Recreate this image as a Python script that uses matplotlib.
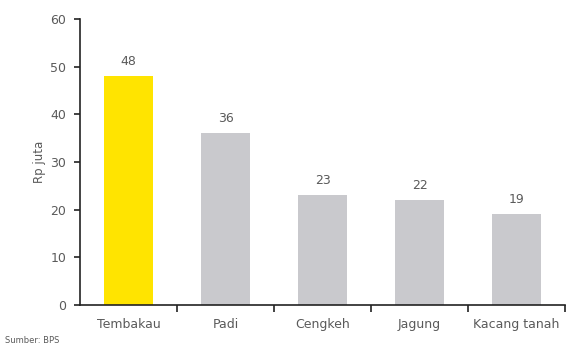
import numpy as np
from matplotlib import pyplot as plt
from matplotlib.ticker import FixedLocator

# Pendapatan per komoditas (Rp juta)
komoditas = ["Tembakau", "Padi", "Cengkeh", "Jagung", "Kacang tanah"]
nilai = [48, 36, 23, 22, 19]
warna = ["#FFE400", "#C9C9CD", "#C9C9CD", "#C9C9CD", "#C9C9CD"]

plt.rcParams["font.family"] = ["DejaVu Sans"]

text_col = "#5a5a5a"
axis_col = "#222222"

fig = plt.figure(figsize=(5.66, 3.51), dpi=100)
ax = fig.add_axes([0.1413, 0.131, 0.857, 0.815])

x = np.arange(len(komoditas))
bars = ax.bar(x, nilai, width=0.5, color=warna, zorder=2)

# value labels above bars
for b, v in zip(bars, nilai):
    ax.annotate(str(v), (b.get_x() + b.get_width() / 2, v),
                xytext=(0, 6), textcoords="offset points",
                ha="center", va="bottom", fontsize=9, color=text_col)

ax.set_xlim(-0.5, len(komoditas) - 0.5)
ax.set_ylim(0, 60)
ax.set_yticks(range(0, 61, 10))

ax.set_xticks(x)
ax.set_xticklabels(komoditas)
# separator ticks between categories
ax.xaxis.set_minor_locator(FixedLocator(list(x + 0.5)))
ax.tick_params(axis="x", which="major", length=0, pad=9, labelsize=9, labelcolor=text_col)
ax.tick_params(axis="x", which="minor", length=5, width=1.2, color=axis_col, direction="out")
ax.tick_params(axis="y", length=4, width=1.2, color=axis_col, labelsize=9,
               labelcolor=text_col, pad=6)

for side in ["top", "right"]:
    ax.spines[side].set_visible(False)
for side in ["left", "bottom"]:
    ax.spines[side].set_color(axis_col)
    ax.spines[side].set_linewidth(1.2)
ax.spines["bottom"].set_zorder(3)

ax.set_ylabel("Rp juta", fontsize=8.5, color=text_col, labelpad=3)

fig.text(0.009, 0.016, "Sumber: BPS", fontsize=6, color=text_col, ha="left", va="bottom")

fig.savefig("out.png", dpi=100)
